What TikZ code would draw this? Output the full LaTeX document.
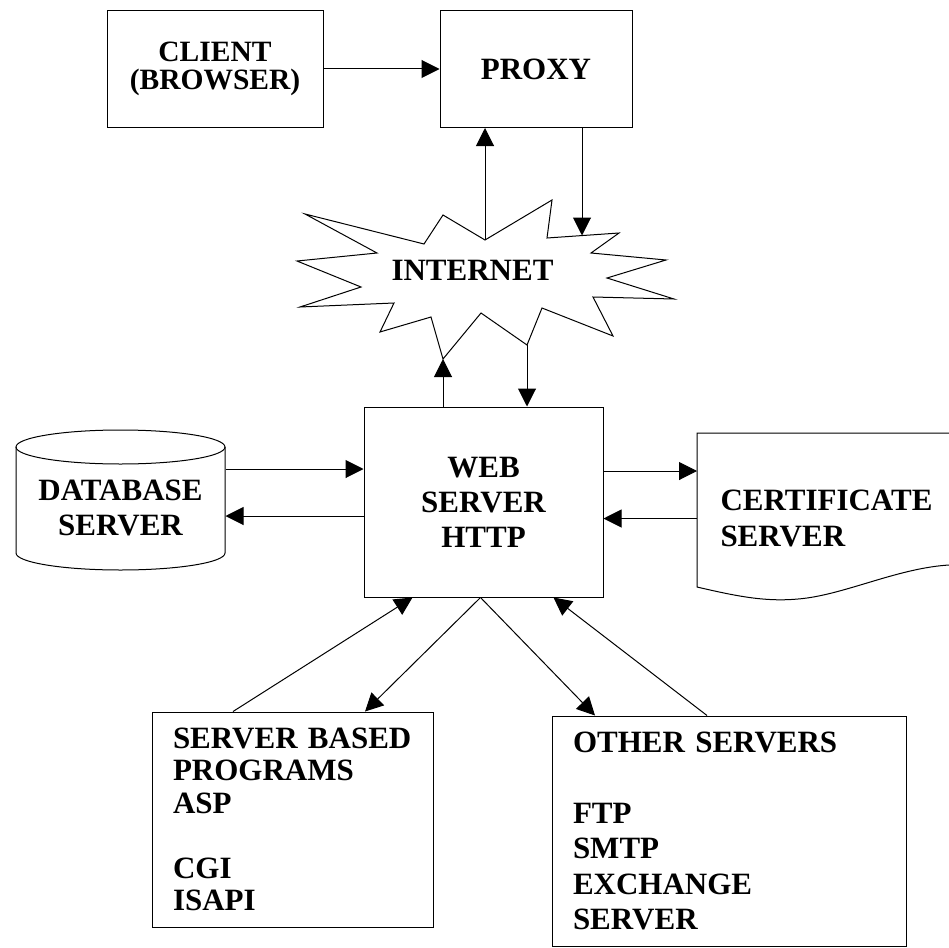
\documentclass[tikz,border=0pt]{standalone}
\usepackage{fontspec}
\setmainfont{Liberation Serif}
\usetikzlibrary{arrows.meta}
\begin{document}
\begin{tikzpicture}[x=1pt,y=-1pt,>={Triangle[length=18pt,width=18pt]},line width=1pt,
  every node/.style={font=\bfseries\fontsize{31}{35}\selectfont,inner sep=0pt},
  box/.style={draw,align=center},
  listbox/.style={draw,align=left,inner xsep=21pt}]
\useasboundingbox (0,0) rectangle (949,947);
\node[box,minimum width=216pt,minimum height=117pt,font=\bfseries\fontsize{29.5}{28.5}\selectfont] (client) at (215,69) {CLIENT\\(BROWSER)};
\node[box,minimum width=192pt,minimum height=117pt] (proxy) at (536,69) {PROXY};
\node[box,minimum width=239pt,minimum height=190pt] (web) at (483.5,502) {WEB\\SERVER\\HTTP};
\node[align=center,minimum width=209pt] (db) at (120.5,508) {DATABASE\\SERVER};
\node[align=left,anchor=west,inner xsep=23pt,font=\bfseries\fontsize{31}{36}\selectfont] (cert) at (697,518.5) {CERTIFICATE\\SERVER};
\node (net) at (472.5,270.5) {INTERNET};
\node[listbox,text width=239pt,minimum height=215pt,font=\bfseries\fontsize{31}{32.5}\selectfont] (sbp) at (292.5,819.5) {SERVER BASED\\PROGRAMS\\ASP\\[32.5pt]CGI\\ISAPI};
\node[listbox,text width=312pt,minimum height=230pt,font=\bfseries\fontsize{31}{35.5}\selectfont] (other) at (729,831) {OTHER SERVERS\\[35.5pt]FTP\\SMTP\\EXCHANGE\\SERVER};
\draw (485,240) -- (552,200) -- (547,238) -- (619,233) -- (591,253) -- (666,260) -- (607,278) -- (674,299)
  -- (593,297) -- (613,336) -- (542,308) -- (527,345) -- (481,313) -- (443,359) -- (431,317) -- (380,332)
  -- (394,303) -- (300,307) -- (361,287) -- (297,261) -- (377,253) -- (305,214) -- (424,244) -- (443,215) -- cycle;
\draw (16,447) -- (16,553) arc (180:360:104.5pt and 17pt) -- (225,447);
\draw (120.5,447) ellipse (104.5pt and 17pt);
\draw (949,433) -- (697,433) -- (697,587) .. controls (740,597) and (770,603) .. (807,598)
  .. controls (850,592) and (900,568) .. (949,565);
\coordinate (netP) at (485,240);
\coordinate (netQ) at (582,235.5);
\coordinate (netW) at (443,359);
\coordinate (netV) at (527,345);
\coordinate (dbA) at ([yshift=39pt]db.east);
\coordinate (dbB) at ([yshift=-8pt]db.east);
\coordinate (certA) at ([yshift=47.5pt]cert.west);
\draw[->] (client.east) -- (proxy.west);
\draw[->] (netP) -- (netP |- proxy.south);
\draw[->] (netQ |- proxy.south) -- (netQ);
\draw[->] (netW |- web.north) -- (netW);
\draw[->] (netV) -- (netV |- web.north);
\draw[->] (dbA) -- (dbA -| web.west);
\draw[->] (dbB -| web.west) -- (dbB);
\draw[->] (certA -| web.east) -- (certA);
\draw[->] (cert.west) -- (cert.west -| web.east);
\draw[->] ([xshift=-59.5pt]sbp.north) -- ([xshift=-71pt]web.south);
\draw[->] ([xshift=-3pt]web.south) -- ([xshift=72.5pt]sbp.north);
\draw[->] ([xshift=-3pt]web.south) -- ([xshift=-134pt]other.north);
\draw[->] ([xshift=-22pt]other.north) -- ([xshift=70pt]web.south);
\end{tikzpicture}
\end{document}
